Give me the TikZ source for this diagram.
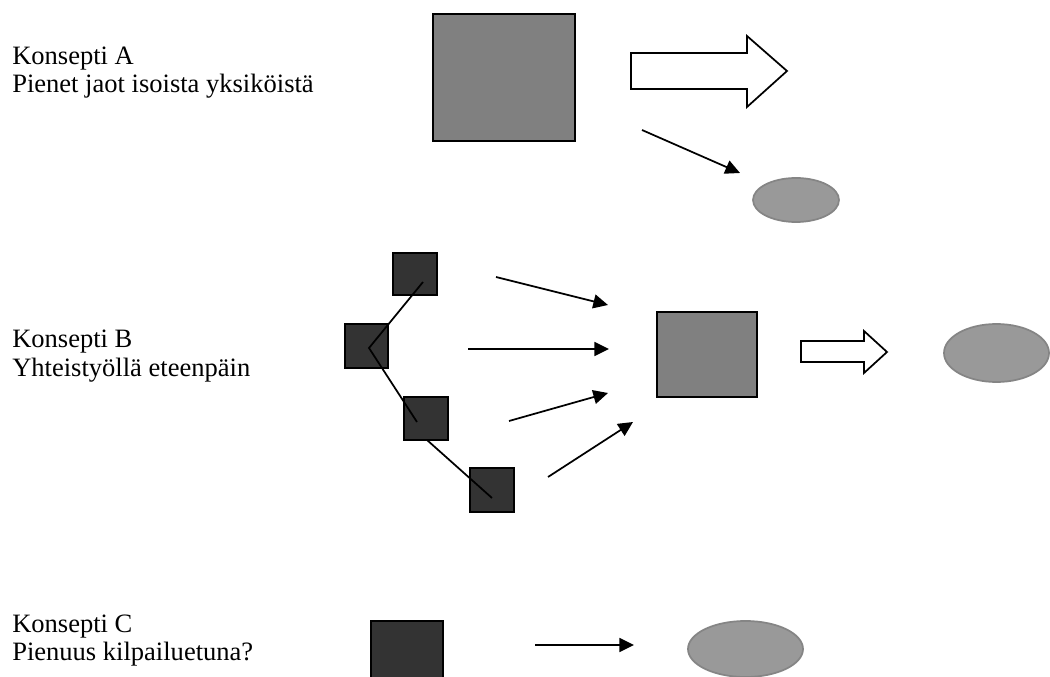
\documentclass[tikz,border=0pt]{standalone}
\usepackage{fontspec}
\setmainfont{Liberation Serif}
\usetikzlibrary{arrows.meta,shapes.geometric}
\definecolor{sqmid}{HTML}{808080}
\definecolor{sqdark}{HTML}{333333}
\definecolor{ellfill}{HTML}{999999}
\definecolor{ellline}{HTML}{858585}
\begin{document}
\begin{tikzpicture}[x=0.75pt,y=-0.75pt,
  lbl/.style={anchor=base west,inner sep=0pt,font=\fontsize{19.9}{21}\selectfont},
  sqbox/.style={draw=black,line width=1.5pt,inner sep=0pt,outer sep=0pt},
  ell/.style={ellipse,fill=ellfill,draw=ellline,line width=1.3pt},
  conn/.style={line width=1.3pt,-{Triangle[length=11pt,width=10.5pt]}},
  blockarrow/.style={draw=black,fill=white,line width=1.3pt,line join=miter},
  plain/.style={line width=1.3pt}]
\useasboundingbox (0,0) rectangle (1050,677);
\fill[white] (0,0) rectangle (1050,677);

% Labels
\node[lbl] (la1) at (12,65) {Konsepti A};
\node[lbl] (la2) at (12,93) {Pienet jaot isoista yksiköistä};
\node[lbl] (lb1) at (12,348) {Konsepti B};
\node[lbl] (lb2) at (12,377) {Yhteistyöllä eteenpäin};
\node[lbl] (lc1) at (12,632) {Konsepti C};
\node[lbl] (lc2) at (12,660) {Pienuus kilpailuetuna?};

% Concept A
\node[sqbox,fill=sqmid,minimum width=106.5pt,minimum height=95.25pt] (sqA) at (504,77.5) {};
\draw[blockarrow] (631,53) -- (747,53) -- (747,36) -- (787,71) -- (747,107) -- (747,89) -- (631,89) -- cycle;
\node[ell,minimum width=64.5pt,minimum height=33pt,inner sep=0pt] (elA) at (796,200) {};
\coordinate (aS) at (642,130);
\coordinate (aE) at (740,173);
\draw[conn] (aS) -- (aE);

% Concept B
\node[sqbox,fill=sqdark,minimum width=33pt,minimum height=31.5pt] (s1) at (415,274) {};
\node[sqbox,fill=sqdark,minimum width=32.25pt,minimum height=33pt] (s2) at (366.5,346) {};
\node[sqbox,fill=sqdark,minimum width=33pt,minimum height=32.25pt] (s3) at (426,418.5) {};
\node[sqbox,fill=sqdark,minimum width=33pt,minimum height=33pt] (s4) at (492,490) {};
\coordinate (p1) at (423,282);
\coordinate (p2) at (369,348);
\coordinate (p3) at (417,422);
\coordinate (p4) at (427,440);
\coordinate (p5) at (492,498);
\draw[plain] (p1) -- (p2) -- (p3);
\draw[plain] (p4) -- (p5);

\coordinate (b1s) at (496,277); \coordinate (b1e) at (608,305);
\coordinate (b2s) at (468,349); \coordinate (b2e) at (609,349);
\coordinate (b3s) at (509,421); \coordinate (b3e) at (608,393);
\coordinate (b4s) at (548,477); \coordinate (b4e) at (633,422);
\draw[conn] (b1s) -- (b1e);
\draw[conn] (b2s) -- (b2e);
\draw[conn] (b3s) -- (b3e);
\draw[conn] (b4s) -- (b4e);

\node[sqbox,fill=sqmid,minimum width=75pt,minimum height=63.75pt] (sqB) at (707,354.5) {};
\draw[blockarrow] (801,341) -- (864,341) -- (864,331) -- (887,352) -- (864,373) -- (864,362) -- (801,362) -- cycle;
\node[ell,minimum width=78.75pt,minimum height=43.5pt,inner sep=0pt] (elB) at (996.5,353) {};

% Concept C
\node[sqbox,fill=sqdark,minimum width=54pt,minimum height=54pt] (sqC) at (407,657) {};
\coordinate (cS) at (535,645);
\coordinate (cE) at (634,645);
\draw[conn] (cS) -- (cE);
\node[ell,minimum width=86.25pt,minimum height=42pt,inner sep=0pt] (elC) at (745.5,649) {};
\end{tikzpicture}
\end{document}
